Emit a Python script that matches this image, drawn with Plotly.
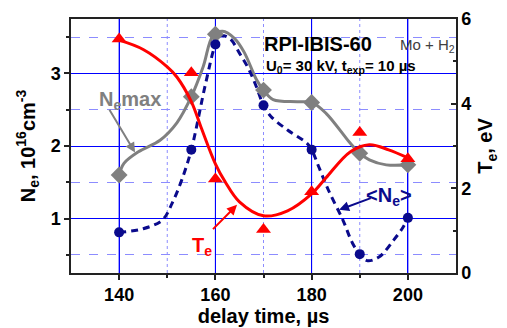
import plotly.graph_objects as go

# ---- data ----
t_points = [140, 155, 160, 170, 180, 190, 200]
ne_values = [0.81, 1.95, 3.40, 2.56, 1.95, 0.51, 1.01]
ne_max_values = [1.60, 2.68, 3.54, 2.77, 2.60, 1.90, 1.74]
te_values = [5.53, 4.73, 2.22, 1.03, 1.92, 3.32, 2.70]

# smooth guide curves
te_curve_t = [140, 145, 150, 152, 155, 157, 160, 162, 165, 170, 175, 180, 183, 188, 192, 196, 200]
te_curve = [5.50, 5.28, 4.87, 4.63, 4.05, 3.45, 2.58, 2.16, 1.68, 1.35, 1.47, 1.87, 2.25, 2.86, 3.03, 2.91, 2.72]

nemax_curve_t = [140, 141, 144, 148.5, 152, 155, 157.5, 159.5, 161.5, 164, 166, 168.5, 170, 172, 177, 180, 183, 188, 190, 192, 195.5, 200]
nemax_curve = [1.60, 1.76, 1.92, 2.08, 2.32, 2.68, 3.10, 3.52, 3.58, 3.48, 3.29, 2.92, 2.77, 2.64, 2.61, 2.60, 2.45, 2.04, 1.90, 1.81, 1.74, 1.74]

ne_curve_t = [140, 145, 149, 151, 153, 155, 158, 160, 161, 163, 165, 167, 168.5, 170, 171.5, 175, 179, 180, 181.5, 183.5, 186.5, 188.5, 190, 191.5, 194, 197, 199, 200]
ne_curve = [0.81, 0.86, 0.98, 1.21, 1.53, 1.95, 2.87, 3.40, 3.52, 3.48, 3.28, 3.05, 2.82, 2.56, 2.41, 2.22, 2.04, 1.95, 1.71, 1.39, 0.98, 0.66, 0.51, 0.42, 0.47, 0.70, 0.88, 1.01]

x_range = [130, 210]
ne_range = [0.25, 3.75]
te_range = [0, 6]
x_major_ticks = [140, 160, 180, 200]
x_minor_ticks = [150, 170, 190]

RED = "#FF0000"
NAVY = "#0A0A8C"
GREY = "#808080"
MAJOR_GRID = "#0000FF"
MINOR_GRID = "#8C8CFF"
FONT = "Liberation Sans, Arial, sans-serif"

fig = go.Figure()

fig.add_trace(go.Scatter(x=nemax_curve_t, y=nemax_curve, mode="lines",
                         line=dict(color=GREY, width=3, shape="spline", smoothing=1.0),
                         hoverinfo="skip"))
fig.add_trace(go.Scatter(x=ne_curve_t, y=ne_curve, mode="lines",
                         line=dict(color=NAVY, width=3, dash="7px,5px", shape="spline", smoothing=1.0),
                         hoverinfo="skip"))
fig.add_trace(go.Scatter(x=t_points, y=ne_max_values, mode="markers",
                         marker=dict(symbol="diamond", size=13, color=GREY)))
fig.add_trace(go.Scatter(x=t_points, y=ne_values, mode="markers",
                         marker=dict(symbol="circle", size=10, color=NAVY)))
fig.add_trace(go.Scatter(x=te_curve_t, y=te_curve, mode="lines", yaxis="y2",
                         line=dict(color=RED, width=3, shape="spline", smoothing=1.0),
                         hoverinfo="skip"))
fig.add_trace(go.Scatter(x=t_points, y=te_values, mode="markers", yaxis="y2",
                         marker=dict(symbol="triangle-up", size=13, color=RED)))

axis_line = dict(showline=True, linecolor="#222222", linewidth=1.5, automargin=False)

fig.update_layout(
    width=507, height=328,
    margin=dict(l=71, r=51, t=19, b=55),
    paper_bgcolor="white", plot_bgcolor="white",
    showlegend=False,
    font=dict(family=FONT, color="black"),
    xaxis=dict(
        range=x_range, tickvals=x_major_ticks, ticks="outside", ticklen=5, tickwidth=1.5,
        tickcolor="#222222", mirror=True,
        tickfont=dict(size=18, weight="bold"),
        showgrid=True, gridcolor=MAJOR_GRID, gridwidth=1,
        minor=dict(tickvals=x_minor_ticks, ticks="outside", ticklen=3, tickcolor="#222222",
                   showgrid=False),
        zeroline=False,
        title=dict(text="delay time, µs", font=dict(size=20, weight="bold"), standoff=4),
        **axis_line),
    yaxis=dict(
        range=ne_range, tick0=0, dtick=1, ticks="outside", ticklen=5, tickwidth=1.5,
        tickcolor="#222222",
        tickfont=dict(size=18, weight="bold"),
        showgrid=True, gridcolor=MAJOR_GRID, gridwidth=1,
        minor=dict(tick0=0, dtick=0.5, ticks="outside", ticklen=3, tickcolor="#222222",
                   showgrid=True, gridcolor=MINOR_GRID, griddash="dash", gridwidth=1),
        zeroline=False,
        title=dict(text="N<sub>e</sub>, 10<sup>16</sup>cm<sup>-3</sup>",
                   font=dict(size=20, weight="bold"), standoff=10),
        **axis_line),
    yaxis2=dict(
        range=te_range, tick0=0, dtick=2, overlaying="y", side="right",
        ticks="inside", ticklen=5, tickwidth=1.5, tickcolor="#222222",
        tickfont=dict(size=18, weight="bold"),
        showgrid=False, zeroline=False,
        minor=dict(tick0=0, dtick=1, ticks="inside", ticklen=3, tickcolor="#222222"),
        title=dict(text="T<sub>e</sub>, eV", font=dict(size=20, weight="bold"), standoff=8),
        **axis_line),
)

# vertical grid lines placed through the x scale
for xv in x_major_ticks:
    fig.add_vline(x=xv, line=dict(color=MAJOR_GRID, width=1), layer="below")
for xv in x_minor_ticks:
    fig.add_vline(x=xv, line=dict(color=MINOR_GRID, width=1, dash="dot"), layer="below")

# text annotations
fig.add_annotation(x=169.7, y=3.40, xref="x", yref="y", text="RPI-IBIS-60",
                   showarrow=False, xanchor="left", yanchor="middle",
                   font=dict(size=20, weight="bold", color="black"))
fig.add_annotation(x=197.9, y=3.39, xref="x", yref="y", text="Mo + H<sub>2</sub>",
                   showarrow=False, xanchor="left", yanchor="middle",
                   font=dict(size=15, color="#404040"))
fig.add_annotation(x=170.2, y=3.10, xref="x", yref="y",
                   text="U<sub>0</sub>= 30 kV, t<sub>exp</sub>= 10 µs",
                   showarrow=False, xanchor="left", yanchor="middle",
                   font=dict(size=15, weight="bold", color="black"))

# N_e max label with arrow
fig.add_annotation(x=142.3, y=2.63, xref="x", yref="y", text="N<sub>e</sub>max",
                   showarrow=False, font=dict(size=20, weight="bold", color=GREY))
fig.add_annotation(x=143.3, y=1.91, xref="x", yref="y", ax=137.8, ay=2.52,
                   axref="x", ayref="y", text="", showarrow=True,
                   arrowhead=2, arrowsize=1, arrowwidth=2, arrowcolor=GREY,
                   standoff=0, startstandoff=0)

# T_e label with arrow
fig.add_annotation(x=157.2, y=0.62, xref="x", yref="y2", text="T<sub>e</sub>",
                   showarrow=False, font=dict(size=20, weight="bold", color=RED))
fig.add_annotation(x=164.5, y=1.61, xref="x", yref="y2", ax=159.2, ay=1.0,
                   axref="x", ayref="y2", text="", showarrow=True,
                   arrowhead=2, arrowsize=1, arrowwidth=2, arrowcolor=RED,
                   standoff=0, startstandoff=0)

# <N_e> label with arrow
fig.add_annotation(x=196.0, y=1.30, xref="x", yref="y", text="&lt;N<sub>e</sub>&gt;",
                   showarrow=False, font=dict(size=20, weight="bold", color=NAVY))
fig.add_annotation(x=185.7, y=1.12, xref="x", yref="y", ax=192.6, ay=1.29,
                   axref="x", ayref="y", text="", showarrow=True,
                   arrowhead=2, arrowsize=1, arrowwidth=2, arrowcolor=NAVY,
                   standoff=0, startstandoff=0)

fig.write_html("out.html")
